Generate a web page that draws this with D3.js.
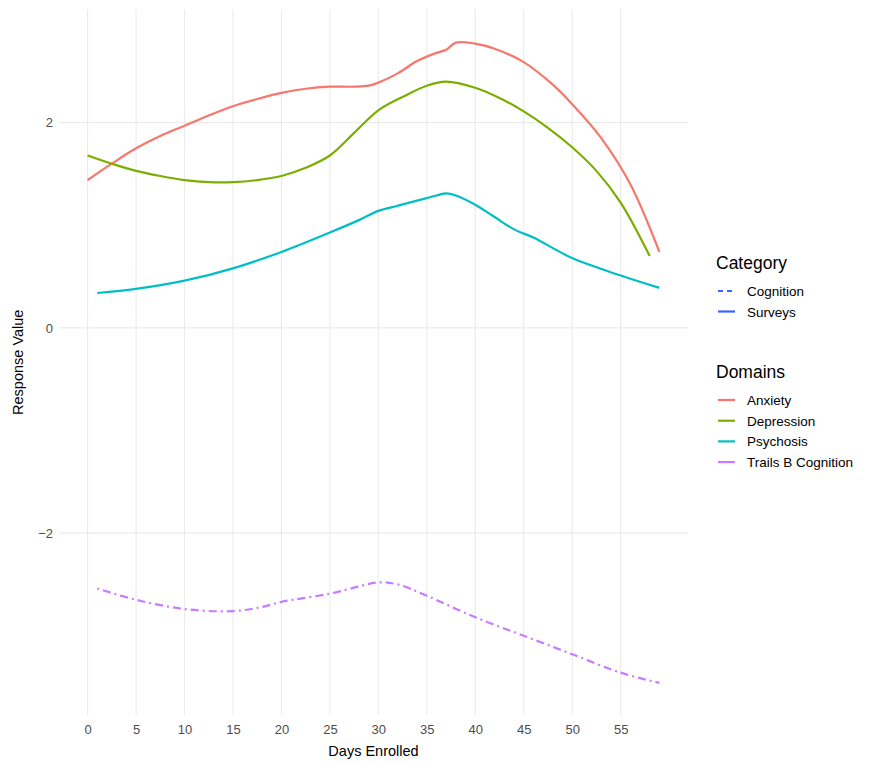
<!DOCTYPE html>
<html>
<head>
<meta charset="utf-8">
<script src="https://cdn.jsdelivr.net/npm/d3@7"></script>
<style>
  body { margin: 0; background: #fff; }
  svg text { font-family: "Liberation Sans", Arial, sans-serif; }
</style>
</head>
<body>
<div id="chart"></div>
<script>
// smoothed lines: [day, value]
var anxiety = [[0,1.44],[2.5,1.60],[5,1.75],[7.5,1.87],[10,1.97],[12.5,2.07],[15,2.16],[17.5,2.23],
  [20,2.29],[22.5,2.33],[25,2.35],[27.5,2.35],[29,2.36],[30,2.39],[32,2.48],[34,2.60],[36,2.68],
  [37,2.71],[38,2.78],[40,2.77],[42,2.72],[45,2.59],[48,2.37],[50,2.18],[53,1.85],[56,1.40],[59,0.74]];
var depression = [[0,1.68],[2.5,1.60],[5,1.53],[7.5,1.48],[10,1.44],[12.5,1.42],[15,1.42],[17.5,1.44],
  [20,1.48],[22.5,1.56],[25,1.68],[27.5,1.90],[30,2.12],[32.5,2.25],[35,2.36],[37,2.40],[40,2.34],
  [42.5,2.24],[45,2.11],[47.5,1.95],[50,1.76],[52.5,1.53],[55,1.22],[58,0.70]];
var psychosis = [[1,0.34],[5,0.38],[10,0.46],[15,0.58],[20,0.74],[25,0.93],[28,1.05],[30,1.14],[32,1.19],
  [34,1.24],[36,1.29],[37,1.31],[38,1.29],[40,1.20],[42,1.08],[44,0.96],[46,0.88],[50,0.68],[55,0.51],[59,0.39]];
var trailsB = [[1,-2.54],[5,-2.65],[10,-2.74],[15,-2.76],[18,-2.72],[20,-2.67],[25,-2.59],[28,-2.52],
  [30,-2.48],[32,-2.50],[35,-2.61],[40,-2.82],[45,-3.00],[50,-3.18],[55,-3.36],[59,-3.46]];

var domains = ["Anxiety", "Depression", "Psychosis", "Trails B Cognition"];
var domainColors = ["#F8766D", "#7CAE00", "#00BFC4", "#C77CFF"];
var categories = ["Cognition", "Surveys"];
var xTicks = [0,5,10,15,20,25,30,35,40,45,50,55];
var yTicks = [-2, 0, 2];

var series = [
  {name: "Anxiety", cat: "Surveys", values: anxiety},
  {name: "Depression", cat: "Surveys", values: depression},
  {name: "Psychosis", cat: "Surveys", values: psychosis},
  {name: "Trails B Cognition", cat: "Cognition", values: trailsB}
];

var width = 875, height = 765;
var pLeft = 59, pRight = 688, pTop = 9.5, pBottom = 715;

var svg = d3.select("#chart").append("svg")
  .attr("width", width)
  .attr("height", height);

var x = d3.scaleLinear().domain([-2.95, 61.95]).range([pLeft, pRight]);
var y = d3.scaleLinear().domain([-3.7725, 3.1025]).range([pBottom, pTop]);

var color = d3.scaleOrdinal().domain(domains).range(domainColors);
var dash = function(cat) { return cat == "Cognition" ? "2,4,8,4" : null; };

// grid
svg.append("g").selectAll("line")
  .data(xTicks).enter().append("line")
  .attr("x1", d => x(d)).attr("x2", d => x(d))
  .attr("y1", pTop).attr("y2", pBottom)
  .attr("stroke", "#EBEBEB").attr("stroke-width", 1.1);

svg.append("g").selectAll("line")
  .data(yTicks).enter().append("line")
  .attr("x1", pLeft).attr("x2", pRight)
  .attr("y1", d => y(d)).attr("y2", d => y(d))
  .attr("stroke", "#EBEBEB").attr("stroke-width", 1.1);

// axes, no domain line or ticks
var xAxis = svg.append("g")
  .attr("transform", "translate(0," + pBottom + ")")
  .call(d3.axisBottom(x).tickValues(xTicks).tickSize(0).tickPadding(10));
xAxis.select(".domain").remove();
xAxis.selectAll("text").attr("fill", "#4D4D4D").style("font-size", "13px");

var yAxis = svg.append("g")
  .attr("transform", "translate(" + pLeft + ",0)")
  .call(d3.axisLeft(y).tickValues(yTicks).tickSize(0).tickPadding(6)
    .tickFormat(d => d < 0 ? "\u2212" + Math.abs(d) : d));
yAxis.select(".domain").remove();
yAxis.selectAll("text").attr("fill", "#4D4D4D").style("font-size", "13px");

svg.append("text")
  .attr("x", (pLeft + pRight) / 2).attr("y", 756)
  .attr("text-anchor", "middle")
  .style("font-size", "14.5px")
  .text("Days Enrolled");

svg.append("text")
  .attr("transform", "translate(23," + ((pTop + pBottom) / 2) + ") rotate(-90)")
  .attr("text-anchor", "middle")
  .style("font-size", "14.5px")
  .text("Response Value");

// lines
var line = d3.line()
  .x(d => x(d[0]))
  .y(d => y(d[1]))
  .curve(d3.curveCatmullRom.alpha(0.5));

svg.append("g").selectAll("path")
  .data(series).enter().append("path")
  .attr("d", d => line(d.values))
  .attr("fill", "none")
  .attr("stroke", d => color(d.name))
  .attr("stroke-width", 2.2)
  .attr("stroke-dasharray", d => dash(d.cat));

// legends
var lg = svg.append("g").attr("transform", "translate(716,0)");

lg.append("text").attr("x", 0).attr("y", 269)
  .style("font-size", "17.5px").text("Category");

var catRows = lg.selectAll(".cat").data(categories).enter().append("g")
  .attr("transform", (d, i) => "translate(0," + (291 + i * 20.5) + ")");
catRows.append("line")
  .attr("x1", 2).attr("x2", 19).attr("y1", 0).attr("y2", 0)
  .attr("stroke", "#3366FF").attr("stroke-width", 2.2)
  .attr("stroke-dasharray", d => d == "Cognition" ? "5,4" : null);
catRows.append("text").attr("x", 31).attr("y", 5)
  .style("font-size", "13.5px").text(d => d);

lg.append("text").attr("x", 0).attr("y", 378)
  .style("font-size", "17.5px").text("Domains");

var domRows = lg.selectAll(".dom").data(domains).enter().append("g")
  .attr("transform", (d, i) => "translate(0," + (400 + i * 20.7) + ")");
domRows.append("line")
  .attr("x1", 2).attr("x2", 19).attr("y1", 0).attr("y2", 0)
  .attr("stroke", d => color(d)).attr("stroke-width", 2.2);
domRows.append("text").attr("x", 31).attr("y", 5)
  .style("font-size", "13.5px").text(d => d);
</script>
</body>
</html>
